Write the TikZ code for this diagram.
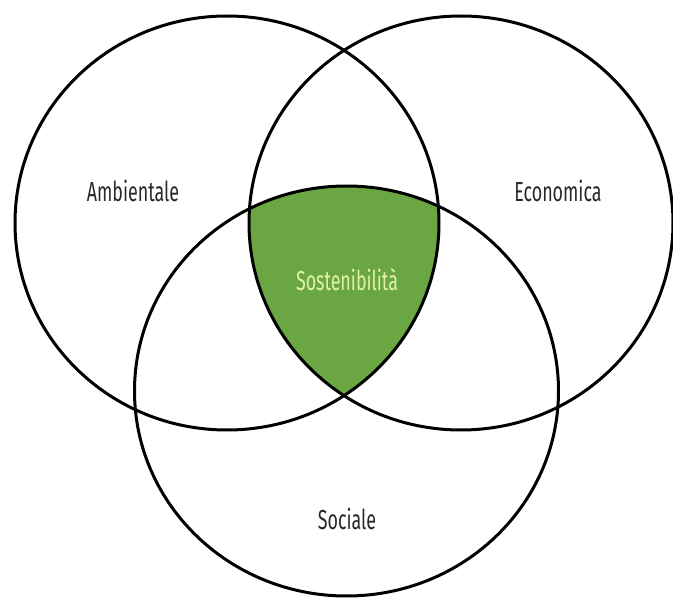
\documentclass[tikz,border=0pt]{standalone}
\usepackage{fontspec}
\setmainfont[FakeStretch=0.65]{Fira Sans}
\definecolor{sostgreen}{RGB}{106,166,66}
\definecolor{sostlight}{RGB}{224,242,170}
\definecolor{lbltext}{RGB}{40,40,40}

\begin{document}
\begin{tikzpicture}[x=1pt,y=-1pt,
	ring/.style={line width=3pt},
	lbl/.style={font=\fontsize{27.5}{30}\selectfont,text=lbltext}]
	\useasboundingbox (0,0) rectangle (673,599);

	\coordinate (amb) at (227,223);
	\coordinate (eco) at (461,223);
	\coordinate (soc) at (346.5,391);

	%shared part of the three circles
	\begin{scope}
	\clip (amb) ellipse [x radius=212, y radius=207];
	\clip (eco) ellipse [x radius=212, y radius=207];
	\fill[sostgreen] (soc) ellipse [x radius=212, y radius=205];
	\end{scope}

	\draw[ring] (amb) ellipse [x radius=212, y radius=207];
	\draw[ring] (eco) ellipse [x radius=212, y radius=207];
	\draw[ring] (soc) ellipse [x radius=212, y radius=205];

	%LABELS
	\node[lbl] (ambl) at (133,191) {Ambientale};
	\node[lbl] (ecol) at (558,191) {Economica};
	\node[lbl] (socl) at (347,519) {Sociale};
	\node[lbl,text=sostlight] (sostl) at (347,280) {Sostenibilità};
\end{tikzpicture}
\end{document}
